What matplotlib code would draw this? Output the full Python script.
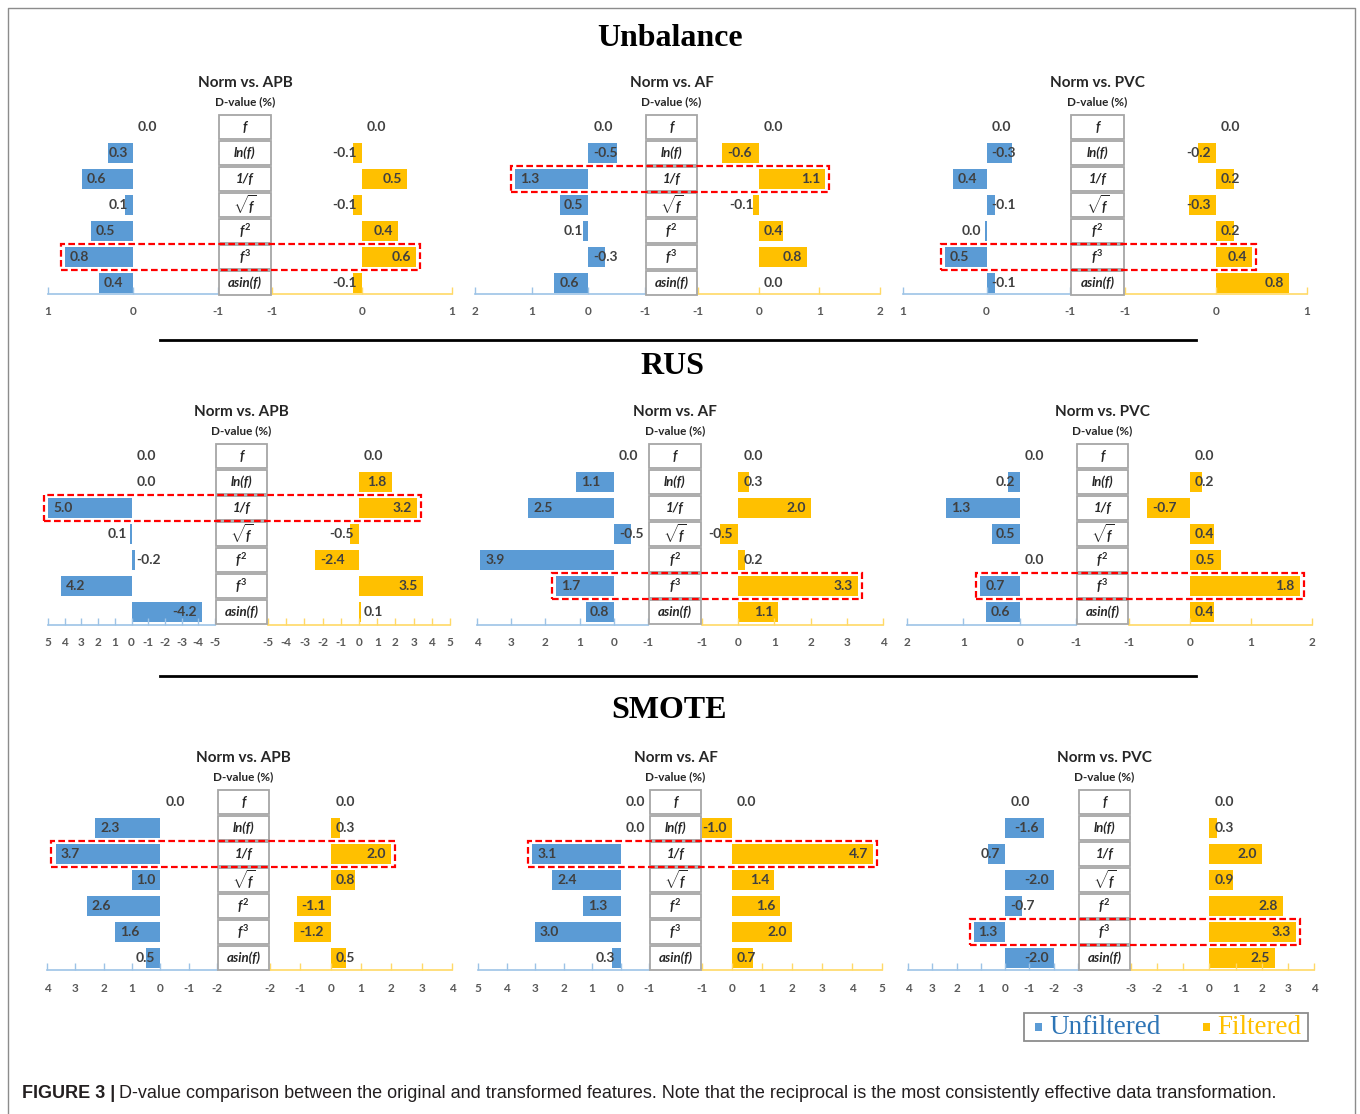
import matplotlib
matplotlib.use('Agg')
import matplotlib.pyplot as plt
from matplotlib.patches import Rectangle
from matplotlib.lines import Line2D

plt.rcParams['axes.unicode_minus'] = False
plt.rcParams['mathtext.fontset'] = 'custom'
plt.rcParams['mathtext.it'] = 'Lato:italic:bold'
plt.rcParams['mathtext.rm'] = 'Lato:bold'
plt.rcParams['mathtext.bf'] = 'Lato:bold'

W, H = 1360, 1114

# ---- data ----
row_labels = ['f', 'ln(f)', '1/f', r'$\sqrt{f}$', r'$f^2$', r'$f^3$', 'asin(f)']
sections = ['Unbalance', 'RUS', 'SMOTE']
panel_titles = ['Norm vs. APB', 'Norm vs. AF', 'Norm vs. PVC']

# Unbalance
unb_apb_unf = [0.0, 0.3, 0.6, 0.1, 0.5, 0.8, 0.4]
unb_apb_fil = [0.0, -0.1, 0.5, -0.1, 0.4, 0.6, -0.1]
unb_af_unf = [0.0, -0.5, 1.3, 0.5, 0.1, -0.3, 0.6]
unb_af_fil = [0.0, -0.6, 1.1, -0.1, 0.4, 0.8, 0.0]
unb_pvc_unf = [0.0, -0.3, 0.4, -0.1, 0.02, 0.5, -0.1]
unb_pvc_fil = [0.0, -0.2, 0.2, -0.3, 0.2, 0.4, 0.8]
# RUS
rus_apb_unf = [0.0, 0.0, 5.0, 0.1, -0.2, 4.2, -4.2]
rus_apb_fil = [0.0, 1.8, 3.2, -0.5, -2.4, 3.5, 0.1]
rus_af_unf = [0.0, 1.1, 2.5, -0.5, 3.9, 1.7, 0.8]
rus_af_fil = [0.0, 0.3, 2.0, -0.5, 0.2, 3.3, 1.1]
rus_pvc_unf = [0.0, 0.2, 1.3, 0.5, 0.0, 0.7, 0.6]
rus_pvc_fil = [0.0, 0.2, -0.7, 0.4, 0.5, 1.8, 0.4]
# SMOTE
smote_apb_unf = [0.0, 2.3, 3.7, 1.0, 2.6, 1.6, 0.5]
smote_apb_fil = [0.0, 0.3, 2.0, 0.8, -1.1, -1.2, 0.5]
smote_af_unf = [0.0, 0.0, 3.1, 2.4, 1.3, 3.0, 0.3]
smote_af_fil = [0.0, -1.0, 4.7, 1.4, 1.6, 2.0, 0.7]
smote_pvc_unf = [0.0, -1.6, 0.7, -2.0, -0.7, 1.3, -2.0]
smote_pvc_fil = [0.0, 0.3, 2.0, 0.9, 2.8, 3.3, 2.5]

# axis ranges (left max, left min, right min, right max)
lims_unb = [(1, -1, -1, 1), (2, -1, -1, 2), (1, -1, -1, 1)]
lims_rus = [(5, -5, -5, 5), (4, -1, -1, 4), (2, -1, -1, 2)]
lims_smote = [(4, -2, -2, 4), (5, -1, -1, 5), (4, -3, -3, 4)]

# highlighted row (red dashed box) per panel
hl_unb = [5, 2, 5]
hl_rus = [2, 5, 5]
hl_smote = [2, 2, 5]

data = [
    [(unb_apb_unf, unb_apb_fil), (unb_af_unf, unb_af_fil), (unb_pvc_unf, unb_pvc_fil)],
    [(rus_apb_unf, rus_apb_fil), (rus_af_unf, rus_af_fil), (rus_pvc_unf, rus_pvc_fil)],
    [(smote_apb_unf, smote_apb_fil), (smote_af_unf, smote_af_fil), (smote_pvc_unf, smote_pvc_fil)],
]
lims = [lims_unb, lims_rus, lims_smote]
highlights = [hl_unb, hl_rus, hl_smote]

# ---- layout (pixels, from top-left) ----
sec_title_x = [670, 672, 669]
sec_title_y = [38, 366, 710]
first_row_y = [127, 456, 802]
axis_y = [294, 625, 970]
row_step = 26
panel_x = [
    [(48, 218, 272, 452), (475, 645, 698, 880), (903, 1070, 1125, 1307)],
    [(48, 215, 268, 450), (477, 648, 702, 883), (907, 1076, 1129, 1312)],
    [(47, 217, 270, 452), (478, 649, 702, 882), (908, 1078, 1131, 1314)],
]

BLUE = '#5B9BD5'
ORANGE = '#FFC000'
BLUE_AX = '#9DC3E6'
ORANGE_AX = '#FFD966'
LABEL_C = '#404040'


def fx(x):
    return x / W


def fy(y):
    return 1 - y / H


fig = plt.figure(figsize=(W / 100, H / 100), dpi=100)
renderer = fig.canvas.get_renderer()

lab_kw = dict(fontsize=10, fontweight='bold', color=LABEL_C, family='Lato', va='center')


def put_label(v, x_tip, x_base, y, side):
    pad = 5
    t = fig.text(0, fy(y), f'{v:.1f}', ha='left', **lab_kw)
    w = t.get_window_extent(renderer).width
    if side == 'left':
        if v > 0:
            left = x_tip + pad
            if left + w > x_base - pad:
                left = x_base - pad - w
        else:
            left = x_tip - pad - w
            if left < x_base + pad:
                left = x_base + pad
    else:
        if v >= 0:
            left = x_tip - pad - w
            if left < x_base + pad:
                left = x_base + pad
        else:
            left = x_tip + pad
            if left + w > x_base - pad:
                left = x_base - pad - w
    t.set_position((fx(left), fy(y)))


for si, sec in enumerate(sections):
    fig.text(fx(sec_title_x[si]), fy(sec_title_y[si]), sec, ha='center', va='center',
             family='Liberation Serif', fontweight='bold', fontsize=23, color='black')
    y0 = first_row_y[si]
    ya = axis_y[si]
    top = y0 - row_step / 2
    n = len(row_labels)
    y_last = y0 + (n - 1) * row_step
    ybot = (n - 1) + (ya - y_last) / row_step

    for pi in range(3):
        l0, l1, r0, r1 = panel_x[si][pi]
        lmax, lmin, rmin, rmax = lims[si][pi]
        unf, fil = data[si][pi]
        cx = (l1 + r0) / 2

        fig.text(fx(cx), fy(y0 - 44), panel_titles[pi], ha='center', va='center',
                 family='Lato', fontweight='bold', fontsize=11, color='#262626')
        fig.text(fx(cx), fy(y0 - 25), 'D-value (%)', ha='center', va='center',
                 family='Lato', fontweight='bold', fontsize=8.5, color='#262626')

        for side, (x0, x1, lo, hi, vals, col, axc) in {
            'left': (l0, l1, lmax, lmin, unf, BLUE, BLUE_AX),
            'right': (r0, r1, rmin, rmax, fil, ORANGE, ORANGE_AX),
        }.items():
            ax = fig.add_axes([fx(x0), fy(ya), (x1 - x0) / W, (ya - top) / H])
            ax.barh(range(n), vals, height=0.75, color=col, linewidth=0)
            ax.set_xlim(lo, hi)
            ax.set_ylim(ybot, -0.5)
            for s in ['top', 'left', 'right']:
                ax.spines[s].set_visible(False)
            ax.spines['bottom'].set_color(axc)
            ax.spines['bottom'].set_linewidth(1.2)
            ticks = list(range(min(lo, hi), max(lo, hi) + 1))
            ax.set_xticks(ticks)
            ax.set_xticklabels([str(t) for t in ticks])
            ax.set_yticks([])
            ax.tick_params(axis='x', direction='in', length=5, color=axc, width=1,
                           labelcolor='#595959', labelsize=8.5, pad=9)
            for lab in ax.get_xticklabels():
                lab.set_fontfamily('Lato')
                lab.set_fontweight('bold')
            ax.patch.set_visible(False)

            def xpx(v, x0=x0, x1=x1, lo=lo, hi=hi):
                return x0 + (v - lo) / (hi - lo) * (x1 - x0)

            for ri, v in enumerate(vals):
                put_label(v, xpx(v), xpx(0), y0 + ri * row_step, side)

        # centre label boxes
        for ri, lab in enumerate(row_labels):
            yr = y0 + ri * row_step
            fig.add_artist(Rectangle((fx(l1 + 1), fy(yr + 12)), (r0 - l1 - 2) / W, 24 / H,
                                     transform=fig.transFigure, facecolor='white',
                                     edgecolor='#A6A6A6', linewidth=1.3))
            fig.text(fx(cx), fy(yr), lab, ha='center', va='center', family='Lato',
                     fontstyle='italic', fontweight='bold', fontsize=9.5, color='#262626')

        # red dashed highlight
        hr = highlights[si][pi]
        yr = y0 + hr * row_step
        bl = l0 + (lmax - unf[hr]) / (lmax - lmin) * (l1 - l0)
        br = r0 + (fil[hr] - rmin) / (rmax - rmin) * (r1 - r0)
        fig.add_artist(Rectangle((fx(bl - 4), fy(yr + 13)), (br - bl + 8) / W, 26 / H,
                                 transform=fig.transFigure, facecolor='none',
                                 edgecolor='#FF0000', linewidth=1.6,
                                 linestyle=(0, (3, 1.5))))

# separators
for ys in [340, 676]:
    fig.add_artist(Line2D([fx(160), fx(1196)], [fy(ys), fy(ys)], color='black',
                          linewidth=2, transform=fig.transFigure))

# frame (open at bottom)
frame_c = '#8C8C8C'
fig.add_artist(Line2D([fx(8), fx(8), fx(1355), fx(1355)], [fy(1114), fy(8), fy(8), fy(1114)],
                      color=frame_c, linewidth=1, transform=fig.transFigure))

# legend
fig.add_artist(Rectangle((fx(1024), fy(1041)), 284 / W, 28 / H, transform=fig.transFigure,
                         facecolor='white', edgecolor='#8C8C8C', linewidth=1.3))
fig.add_artist(Rectangle((fx(1035), fy(1031)), 7 / W, 8 / H, transform=fig.transFigure,
                         facecolor=BLUE, edgecolor='none'))
fig.text(fx(1049), fy(1028), 'Unfiltered', ha='left', va='center', family='Liberation Serif',
         fontsize=19.5, color='#2E75B6')
fig.add_artist(Rectangle((fx(1203), fy(1031)), 7 / W, 8 / H, transform=fig.transFigure,
                         facecolor=ORANGE, edgecolor='none'))
fig.text(fx(1217), fy(1028), 'Filtered', ha='left', va='center', family='Liberation Serif',
         fontsize=19.5, color=ORANGE)

# caption
cap_b = fig.text(fx(22), fy(1093), 'FIGURE 3 |', ha='left', va='center',
                 family='Liberation Sans', fontweight='bold', fontsize=13, color='#231F20')
wb = cap_b.get_window_extent(renderer).width
fig.text(fx(22 + wb + 4), fy(1093),
         'D-value comparison between the original and transformed features. '
         'Note that the reciprocal is the most consistently effective data transformation.',
         ha='left', va='center', family='Liberation Sans', fontsize=13, color='#231F20')

fig.savefig('out.png', dpi=100)
